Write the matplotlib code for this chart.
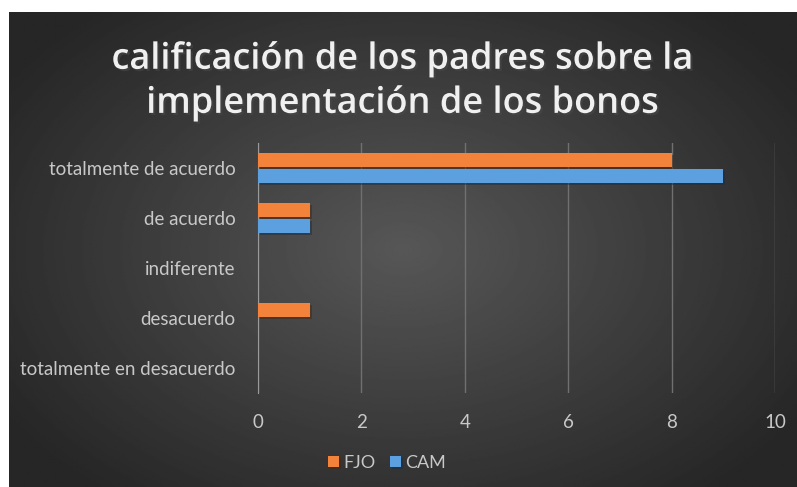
import matplotlib.pyplot as plt
import matplotlib.patheffects as pe
import numpy as np

categories = ["totalmente en desacuerdo", "desacuerdo", "indiferente",
              "de acuerdo", "totalmente de acuerdo"]
fjo = [0, 1, 0, 1, 8]
cam = [0, 0, 0, 1, 9]
xticks = [0, 2, 4, 6, 8, 10]

plt.rcParams['font.family'] = ['Lato', 'DejaVu Sans']

fig = plt.figure(figsize=(7.97, 4.87), dpi=100, facecolor="white")

# dark radial gradient background like the excel style
bg = fig.add_axes([9 / 797, 0, 1 - 9 / 797, 1 - 12 / 487])
yy, xx = np.mgrid[-1:1:300j, -1:1:500j]
r = np.sqrt(xx ** 2 + (yy * 0.9) ** 2)
bg.imshow(0.34 - 0.19 * np.clip(r / 1.2, 0, 1), cmap="gray", vmin=0, vmax=1,
          aspect="auto", extent=[0, 1, 0, 1], interpolation="bilinear")
bg.axis("off")

ax = fig.add_axes([258 / 797, 1 - 393 / 487, 517 / 797, 250 / 487])
ax.set_facecolor("none")

y = np.arange(len(categories))
h = 0.28
shadow = [pe.SimplePatchShadow(offset=(1.5, -1.5), alpha=0.5), pe.Normal()]
ax.barh(y + h / 2 + 0.02, fjo, height=h, color="#F3823A", label="FJO",
        zorder=3, path_effects=shadow)
ax.barh(y - h / 2 - 0.02, cam, height=h, color="#5CA0E0", label="CAM",
        zorder=3, path_effects=shadow)

ax.set_xlim(0, 10)
ax.set_ylim(-0.5, 4.5)
ax.set_xticks(xticks)
ax.set_yticks(y)
ax.set_yticklabels(categories)
ax.grid(axis="x", color="#707070", linewidth=1, zorder=0)
for s in ["top", "right", "bottom"]:
    ax.spines[s].set_visible(False)
ax.spines["left"].set_color("#9a9a9a")
ax.tick_params(length=0, colors="#c8c8c8", labelsize=13.5)
ax.tick_params(axis="y", pad=16)
ax.tick_params(axis="x", pad=15)

fig.text(0.505, 0.832, "calificación de los padres sobre la\nimplementación de los bonos",
         ha="center", va="center", color="#f0f0f0", fontsize=26, fontweight="semibold",
         family="Open Sans", linespacing=1.3,
         path_effects=[pe.withSimplePatchShadow(offset=(1.5, -1.5), alpha=0.6)])

leg = fig.legend(loc="center", bbox_to_anchor=(387 / 797, 1 - 463 / 487), ncol=2,
                 frameon=False, fontsize=13, handlelength=0.6, handleheight=0.6,
                 handletextpad=0.25, columnspacing=0.8)
for t in leg.get_texts():
    t.set_color("#c8c8c8")

fig.savefig("out.png", dpi=100, facecolor="white")
